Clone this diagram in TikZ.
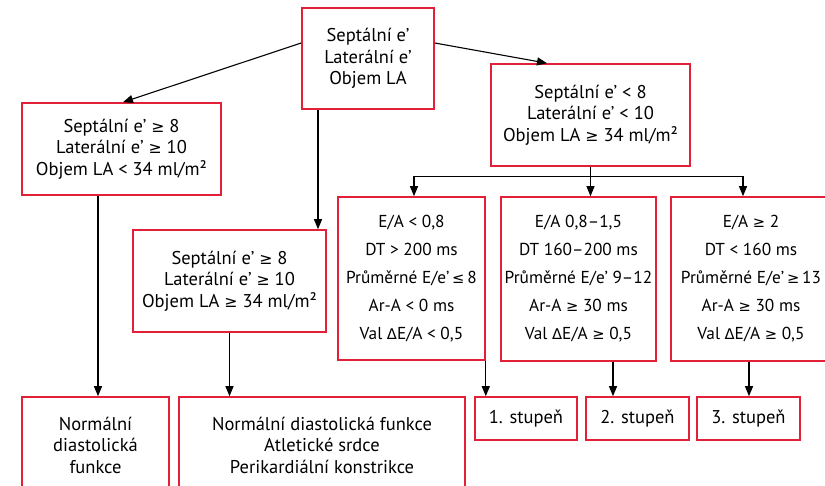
\documentclass[tikz,border=0pt]{standalone}
\usepackage{fontspec}
\setmainfont{PT Sans}
\newfontfamily\symf{DejaVu Sans}[Scale=0.85]
\usetikzlibrary{arrows.meta}
\definecolor{boxred}{RGB}{226,32,56}
\newcommand{\GE}{{\symf ≥}}
\newcommand{\LE}{{\symf ≤}}
\newcommand{\DL}{{\symf Δ}}
\begin{document}
\begin{tikzpicture}[x=1pt,y=-1pt,
  box/.style={draw=boxred,line width=1.6pt,inner sep=0pt,align=center,font=\fontsize{18.5}{21.5}\selectfont},
  tallbox/.style={box,font=\fontsize{17.3}{28}\selectfont},
  arr/.style={line width=1.1pt,-{Triangle[length=10pt,width=8pt]}},
  ln/.style={line width=1.1pt}]
\useasboundingbox (0,0) rectangle (825,486);
\clip (0,0) rectangle (825,486);

\node[box,minimum width=132pt,minimum height=101pt] (T) at (368,58.5) {Septální e’\\Laterální e’\\Objem LA};
\node[box,minimum width=199pt,minimum height=92pt] (A) at (121.5,149) {Septální e’ \GE{} 8\\Laterální e’ \GE{} 10\\Objem LA < 34 ml/m²};
\node[box,minimum width=199pt,minimum height=102pt] (B) at (590.5,115) {Septální e’ < 8\\Laterální e’ < 10\\Objem LA \GE{} 34 ml/m²};
\node[box,minimum width=193pt,minimum height=102pt] (C) at (229.5,281) {Septální e’ \GE{} 8\\Laterální e’ \GE{} 10\\Objem LA \GE{} 34 ml/m²};
\node[tallbox,minimum width=147pt,minimum height=163pt] (F) at (411.5,278.5) {E/A < 0,8\\DT > 200 ms\\Průměrné E/e’\,\LE\,8\\Ar-A < 0 ms\\Val \DL{}E/A < 0,5};
\node[tallbox,minimum width=155pt,minimum height=164pt] (G) at (578.5,279) {E/A 0,8–1,5\\DT 160–200 ms\\Průměrné E/e’ 9–12\\Ar-A \GE{} 30 ms\\Val \DL{}E/A \GE{} 0,5};
\node[tallbox,minimum width=160pt,minimum height=164pt] (H) at (751,279) {E/A \GE{} 2\\DT < 160 ms\\Průměrné E/e’\,\GE\,13\\Ar-A \GE{} 30 ms\\Val \DL{}E/A \GE{} 0,5};
\node[box,minimum width=147pt,minimum height=96pt] (D) at (95.5,445) {Normální\\diastolická\\funkce};
\node[box,minimum width=286pt,minimum height=96pt] (E) at (322,445) {Normální diastolická funkce\\Atletické srdce\\Perikardiální konstrikce};
\node[box,minimum width=102pt,minimum height=43pt] (I) at (526,418.5) {1. stupeň};
\node[box,minimum width=103pt,minimum height=43pt] (J) at (637.5,418.5) {2. stupeň};
\node[box,minimum width=103pt,minimum height=43pt] (K) at (748.5,418.5) {3. stupeň};

\draw[arr] ([yshift=15.5pt]T.west) -- ([xshift=1.5pt]A.north);
\draw[arr] ([yshift=15.5pt]T.east) -- ([xshift=-43.5pt]B.north);
\draw[arr] ([xshift=-50pt]T.south) -- ([xshift=-50pt]T.south |- C.north);
\draw[arr] ([xshift=-23.5pt]A.south) -- ([xshift=-23.5pt]A.south |- D.north);
\draw[arr] (C.south) -- (C.south |- E.north);
\draw[ln] (B.south) -- ++(0,10) coordinate (bj);
\draw[arr] (bj) -| ([xshift=2.5pt]F.north);
\draw[arr] (bj) -| ([xshift=-8pt]H.north);
\draw[arr] (B.south) -- (B.south |- G.north);
\draw[arr] (F.south east) -- (F.south east |- I.north);
\draw[arr] ([xshift=34.5pt]G.south) -- ([xshift=34.5pt]G.south |- J.north);
\draw[arr] ([xshift=-2pt]H.south) -- ([xshift=-2pt]H.south |- K.north);
\end{tikzpicture}
\end{document}
